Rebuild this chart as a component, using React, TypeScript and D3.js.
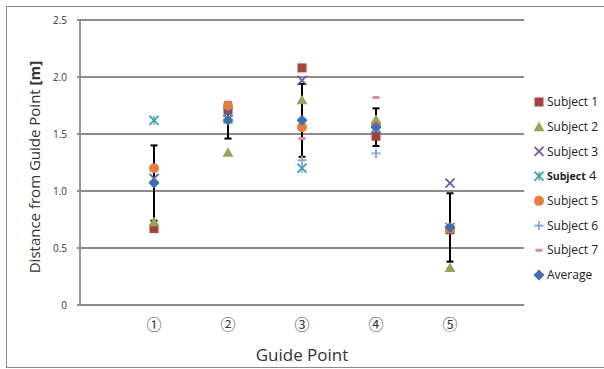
import React from "react";
import * as d3 from "d3";

const guidePoints = [1, 2, 3, 4, 5];
const guideLabels = ["①", "②", "③", "④", "⑤"];
const subject1 = [0.67, 1.71, 2.08, 1.48, 0.66];
const subject2 = [0.73, 1.34, 1.80, 1.63, 0.33];
const subject3 = [1.11, 1.69, 1.97, 1.55, 1.07];
const subject4 = [1.62, 1.63, 1.20, 1.55, 0.68];
const subject5 = [1.20, 1.75, 1.56, 1.57, 0.67];
const subject6 = [1.08, 1.62, 1.27, 1.33, 0.68];
const subject7 = [1.08, 1.62, 1.46, 1.82, 0.67];
const average = [1.07, 1.62, 1.62, 1.56, 0.68];
const stdDev = [0.33, 0.16, 0.32, 0.165, 0.30];
const yTicks = [0, 0.5, 1.0, 1.5, 2.0, 2.5];
const seriesNames = ["Subject 1", "Subject 2", "Subject 3", "Subject 4", "Subject 5", "Subject 6", "Subject 7", "Average"];

const colors = ["#A8423F", "#8DAA5B", "#7256A0", "#3D9DB3", "#E3803F", "#86A3D4", "#D9918F", "#3F6FAE"];
const kinds = ["square", "triangle", "x", "star", "circle", "plus", "dash", "diamond"];
const allSeries = [subject1, subject2, subject3, subject4, subject5, subject6, subject7, average];

function Marker({ kind, color, x, y }: { kind: string; color: string; x: number; y: number }) {
  const s = 4.5;
  switch (kind) {
    case "square":
      return <rect x={x - s} y={y - s} width={2 * s} height={2 * s} fill={color} />;
    case "triangle":
      return <path d={`M${x},${y - 5}L${x + 5.5},${y + 4.5}L${x - 5.5},${y + 4.5}Z`} fill={color} />;
    case "circle":
      return <circle cx={x} cy={y} r={5} fill={color} />;
    case "diamond":
      return <path d={`M${x},${y - 5.5}L${x + 5.5},${y}L${x},${y + 5.5}L${x - 5.5},${y}Z`} fill={color} />;
    case "x":
      return (
        <g stroke={color} strokeWidth={1.8}>
          <line x1={x - s} y1={y - s} x2={x + s} y2={y + s} />
          <line x1={x - s} y1={y + s} x2={x + s} y2={y - s} />
        </g>
      );
    case "star":
      return (
        <g stroke={color} strokeWidth={1.8}>
          <line x1={x - s} y1={y - s} x2={x + s} y2={y + s} />
          <line x1={x - s} y1={y + s} x2={x + s} y2={y - s} />
          <line x1={x} y1={y - s} x2={x} y2={y + s} strokeWidth={1.2} />
        </g>
      );
    case "plus":
      return (
        <g stroke={color} strokeWidth={1.8}>
          <line x1={x - s} y1={y} x2={x + s} y2={y} />
          <line x1={x} y1={y - s} x2={x} y2={y + s} />
        </g>
      );
    case "dash":
      return <rect x={x - 3.5} y={y - 1.5} width={7} height={3} fill={color} />;
  }
  return null;
}

export default function App() {
  const x = d3.scaleLinear().domain([0, 6]).range([80, 524]);
  const y = d3.scaleLinear().domain([0, 2.5]).range([305, 20]);
  const font = "'Open Sans', 'Noto Sans', sans-serif";
  const legendY = d3.scaleLinear().domain([0, 7]).range([102, 275]);

  return (
    <div style={{ position: "absolute", left: 0, top: 0 }}>
      <svg width={604} height={369} style={{ display: "block", background: "#fff" }}>
        <rect x={6.5} y={6.5} width={610} height={361} fill="#fff" stroke="#8a8a8a" strokeWidth={1} />
        {yTicks.map((t) => (
          <g key={t}>
            <line x1={77} x2={x(6)} y1={y(t)} y2={y(t)} stroke="#8c8c8c" strokeWidth={1.8} />
            <text x={67} y={y(t)} dy="0.35em" textAnchor="end" fontSize={10} fill="#333" fontFamily={font}>
              {t === 0 ? "0" : t.toFixed(1)}
            </text>
          </g>
        ))}
        <line x1={80} x2={80} y1={y(2.5)} y2={y(0)} stroke="#8c8c8c" strokeWidth={1.8} />
        {guidePoints.map((g, i) => (
          <text key={g} x={x(g)} y={325} dy="0.35em" textAnchor="middle" fontSize={15} fill="#333" fontFamily="'Noto Sans CJK JP', 'DejaVu Sans', sans-serif">
            {guideLabels[i]}
          </text>
        ))}
        <text x={302} y={361} textAnchor="middle" fontSize={17} fill="#333" fontFamily={font}>
          Guide Point
        </text>
        <text transform={`translate(40,167) rotate(-90)`} textAnchor="middle" fontSize={15} fill="#333" fontFamily={font}>
          Distance from Guide Point <tspan fontWeight="bold">[m]</tspan>
        </text>
        {guidePoints.map((g, i) => {
          const cx = x(g);
          const top = y(average[i] + stdDev[i]);
          const bot = y(average[i] - stdDev[i]);
          return (
            <g key={"e" + g} stroke="#000" strokeWidth={2}>
              <line x1={cx} x2={cx} y1={top} y2={bot} />
              <line x1={cx - 3.5} x2={cx + 3.5} y1={top} y2={top} />
              <line x1={cx - 3.5} x2={cx + 3.5} y1={bot} y2={bot} />
            </g>
          );
        })}
        {allSeries.map((ser, si) =>
          ser.map((v, i) => (
            <Marker key={si + "-" + i} kind={kinds[si]} color={colors[si]} x={x(guidePoints[i])} y={y(v)} />
          ))
        )}
        {seriesNames.map((n, si) => (
          <g key={n}>
            <Marker kind={kinds[si]} color={colors[si]} x={539} y={legendY(si)} />
            <text x={547} y={legendY(si)} dy="0.35em" fontSize={12} fill="#222" fontFamily={font}>
              {si === 3 ? (
                <>
                  <tspan fontSize={10.5} fontWeight="bold">Subject</tspan>
                  <tspan fontSize={13}> 4</tspan>
                </>
              ) : (
                n
              )}
            </text>
          </g>
        ))}
      </svg>
    </div>
  );
}
